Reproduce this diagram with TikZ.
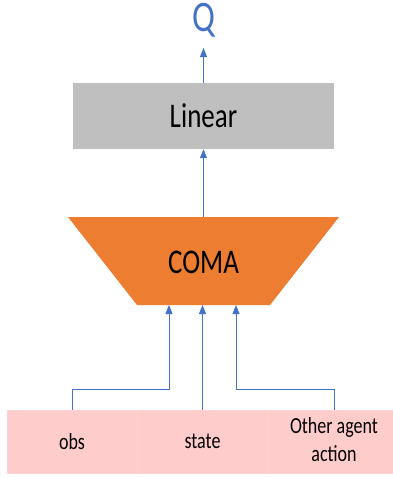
\documentclass[tikz,border=0pt]{standalone}
\usepackage{fontspec}
\setmainfont{Carlito}
\usepackage{graphicx}
\usetikzlibrary{arrows.meta}
\definecolor{lblue}{HTML}{4472C4}
\definecolor{grayc}{HTML}{BFBFBF}
\definecolor{orangec}{HTML}{ED7D31}
\definecolor{pinkc}{HTML}{FFCCCC}
\definecolor{pinkline}{HTML}{FFD2D2}
\newcommand\tallt[1]{\scalebox{1}[1.28]{#1}}
\begin{document}
\begin{tikzpicture}[x=1pt,y=-1pt,
  conn/.style={draw=lblue,line width=1pt,-{Triangle[length=9pt,width=7pt]}},
  cell/.style={fill=pinkc,draw=pinkline,line width=0.5pt,minimum height=63pt,inner sep=0pt,font=\fontsize{18}{22}\selectfont}]
\clip (0,0) rectangle (393,477);
\fill[white] (0,0) rectangle (393,477);
\node[text=lblue,inner sep=0pt,font=\fontsize{34}{40}\selectfont] (q) at (203.5,20) {\tallt{Q}};
\node[fill=grayc,minimum width=261pt,minimum height=66pt,inner sep=0pt,font=\fontsize{27}{32}\selectfont] (linear) at (203.5,116) {\tallt{Linear}};
\fill[orangec] (68,217) coordinate (comatl) -- (339,217) coordinate (comatr) -- (270,305) coordinate (comabr) -- (137,305) coordinate (comabl) -- cycle;
\node[inner sep=0pt,font=\fontsize{27}{32}\selectfont] (coma) at (203.5,262) {\tallt{COMA}};
\node[cell,minimum width=130pt] (obs) at (72,441.5) {\tallt{obs}};
\node[cell,minimum width=131pt] (state) at (202.5,441.5) {\tallt{state}};
\node[cell,minimum width=132pt] (other) at (334,441.5) {\tallt{\renewcommand\arraystretch{1}\begin{tabular}{@{}c@{}}Other agent\\action\end{tabular}}};
\coordinate (qtip) at (203.5,48);
\coordinate (comatop) at (203.5,217);
\coordinate (in1) at (169,305);
\coordinate (in2) at (202.5,305);
\coordinate (in3) at (236,305);
\draw[conn] (linear.north) -- (qtip);
\draw[conn] (comatop) -- (linear.south);
\draw[conn] (obs.north) -- ++(0,-20) -| (in1);
\draw[conn] (state.north) -- (in2);
\draw[conn] (other.north) -- ++(0,-20) -| (in3);
\end{tikzpicture}
\end{document}
